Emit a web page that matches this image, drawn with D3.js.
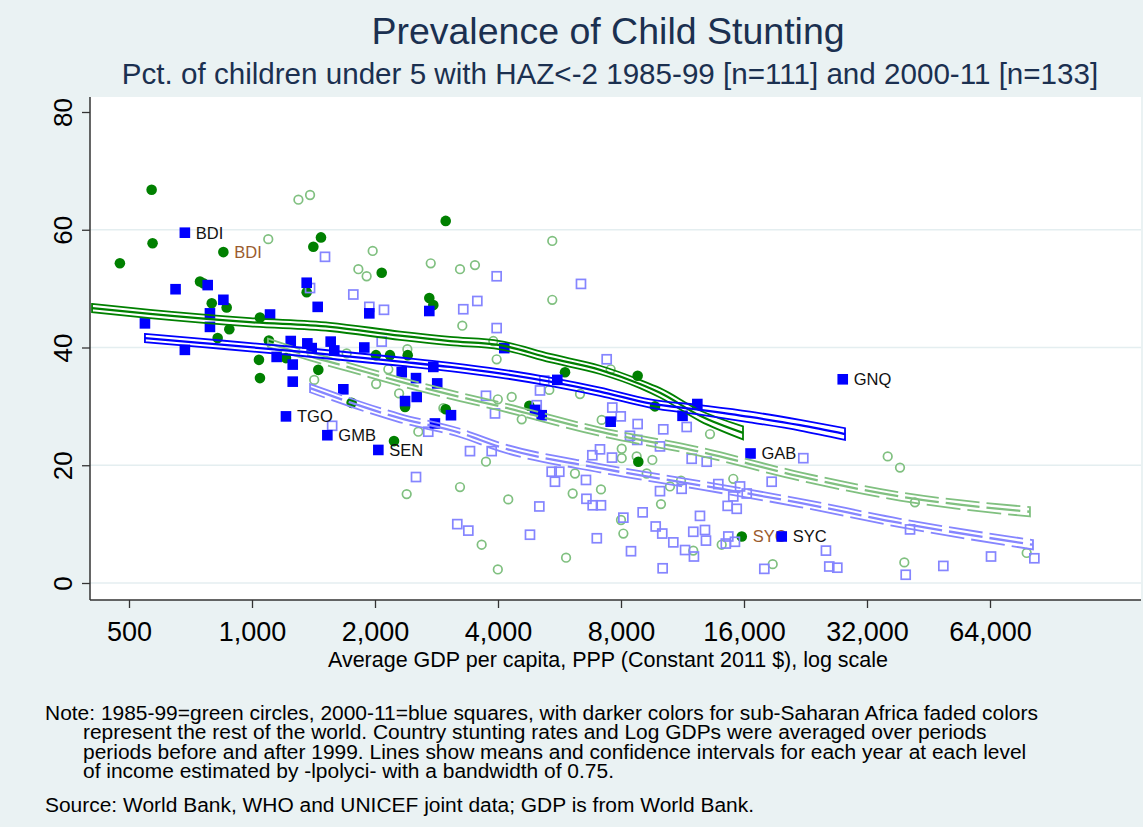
<!DOCTYPE html>
<html>
<head>
<meta charset="utf-8">
<script src="https://cdn.jsdelivr.net/npm/d3@7"></script>
<style>
  body { margin: 0; background: #eaf2f3; }
  svg { display: block; font-family: "Liberation Sans", Arial, Helvetica, sans-serif; }
</style>
</head>
<body>
<svg width="1143" height="827"></svg>
<script>
(function (d3) {
  'use strict';

  var xTicks = [500, 1000, 2000, 4000, 8000, 16000, 32000, 64000];
  var yTicks = [0, 20, 40, 60, 80];

  // [avg gdp per capita, pct stunted, optional country label]
  var ssa1990 = [
    [568, 66.8], [571, 57.7], [475, 54.3], [851, 56.2, "BDI"], [1475, 58.7], [1413, 57.1],
    [2077, 52.7], [746, 51.2], [760, 50.9], [797, 47.5], [867, 46.8], [1361, 49.4],
    [2716, 48.4], [2778, 47.2], [880, 43.1], [824, 41.6], [1046, 45.1], [1100, 41.2],
    [1040, 37.9], [1046, 34.8], [1453, 36.2], [2011, 38.7], [2176, 38.7], [2405, 38.7],
    [1211, 38.2], [2369, 29.9], [2226, 24.1], [1753, 30.6], [2979, 61.5], [4772, 30.1],
    [2979, 29.5], [5836, 35.8], [8787, 35.2], [9688, 30.0], [8820, 20.6], [15800, 7.9, "SYC"]
  ];

  var row1990 = [
    [1299, 65.1], [1387, 65.9], [1096, 58.4], [1974, 56.4], [1821, 53.3], [1908, 52.1],
    [2738, 54.3], [1705, 39.0], [2156, 36.3], [2013, 33.8], [2291, 32.2], [2400, 39.7],
    [1420, 34.5], [2553, 25.7], [5431, 58.1], [5431, 48.1], [3229, 53.3], [3513, 54.0],
    [3271, 43.7], [3896, 41.1], [3970, 38.0], [7547, 36.3], [3996, 31.2], [4321, 31.6],
    [5341, 32.8], [6350, 32.1], [4572, 27.8], [7175, 27.7], [13210, 25.3], [8033, 22.8],
    [8033, 21.2], [8739, 21.5], [9545, 20.9], [9247, 18.6], [10542, 16.4], [11219, 17.4],
    [10022, 13.4], [15062, 17.7], [6172, 18.6], [7146, 15.9], [6093, 15.2], [8000, 10.7],
    [8107, 8.4], [12022, 5.5], [14110, 6.5], [3229, 16.3], [2391, 15.1], [4238, 14.2],
    [3648, 6.5], [5870, 4.3], [3996, 2.3], [2940, 29.7], [3738, 20.6], [35960, 21.5],
    [38540, 19.6], [41920, 13.7], [18810, 3.2], [39490, 3.5], [78700, 5.1]
  ];

  var ssa2005 = [
    [685, 59.5, "BDI"], [650, 49.9], [779, 50.6], [851, 48.1], [789, 45.8], [789, 43.5],
    [547, 44.1], [685, 39.6], [1107, 45.6], [1361, 51.0], [1448, 46.9], [1937, 45.8],
    [2716, 46.2], [1244, 41.1], [1366, 40.7], [1558, 41.0], [1883, 40.0], [1400, 39.9],
    [1590, 39.5], [1149, 38.4], [1258, 37.1], [1258, 34.2], [2325, 35.8], [2520, 34.8],
    [2778, 36.7], [2840, 33.9], [2369, 30.9], [2530, 31.6], [1211, 28.3, "TGO"],
    [1529, 25.1, "GMB"], [2038, 22.6, "SEN"], [1673, 32.9], [2803, 27.1], [4144, 39.9],
    [5587, 34.5], [12300, 30.4], [11316, 28.4], [7547, 27.4], [4927, 29.4], [5117, 28.5],
    [3069, 28.5], [16600, 22.0, "GAB"], [27910, 34.6, "GNQ"], [19790, 7.9, "SYC"]
  ];

  var row2005 = [
    [1509, 55.4], [1387, 50.1], [1770, 49.0], [1937, 46.9], [2104, 46.4], [2077, 41.0],
    [1571, 26.7], [2700, 25.7], [3970, 52.1], [6385, 50.8], [3289, 46.5], [3560, 47.9],
    [3970, 43.3], [7380, 38.0], [5193, 34.4], [5068, 32.7], [3738, 31.8], [7617, 29.8],
    [7988, 28.3], [8787, 27.0], [10152, 26.1], [11584, 26.5], [8415, 25.0], [8768, 24.3],
    [3933, 28.8], [4975, 30.2], [7107, 22.7], [6806, 21.7], [7605, 21.3], [3416, 22.4],
    [3860, 22.4], [9966, 23.2], [11915, 21.1], [12966, 20.6], [2520, 18.0], [5413, 18.9],
    [5650, 18.9], [5514, 17.2], [6567, 17.5], [9966, 15.6], [11259, 16.0], [6584, 14.3],
    [6820, 13.2], [7146, 13.2], [5049, 13.0], [9039, 12.0], [8107, 11.1], [12485, 11.4],
    [14592, 13.1], [15358, 12.6], [15062, 14.7], [15648, 16.4], [16248, 15.2], [13843, 16.8],
    [9728, 9.6], [10094, 8.4], [12022, 8.7], [12842, 9.0], [12913, 7.2], [10743, 6.9],
    [11478, 5.6], [12067, 4.5], [8464, 5.4], [6980, 7.6], [14646, 7.9], [15203, 7.0],
    [4790, 8.2], [3180, 10.0], [3384, 8.9], [10116, 2.5], [22350, 21.2], [18700, 17.2],
    [40780, 9.1], [25390, 5.5], [25870, 2.8], [27070, 2.6], [17940, 2.4], [39800, 1.4],
    [49200, 2.9], [64370, 4.5], [82170, 4.2], [14440, 6.7]
  ];

  // lpolyci fits: [gdp, lower ci, mean, upper ci]
  var fitSsa1990 = [
    [406, 46.0, 46.7, 47.4], [563, 45.0, 45.7, 46.4], [989, 43.6, 44.3, 45.0],
    [1552, 42.8, 43.5, 44.2], [2303, 41.3, 42.0, 42.7], [3052, 40.4, 41.1, 41.8],
    [4045, 39.7, 40.4, 41.1], [5362, 37.5, 38.2, 38.9], [7107, 35.5, 36.2, 36.9],
    [8904, 33.1, 33.8, 34.5], [9968, 31.5, 32.3, 33.1], [12490, 27.5, 28.4, 29.3],
    [15910, 24.4, 25.5, 26.6]
  ];
  var fitSsa2005 = [
    [547, 40.9, 41.6, 42.3], [746, 40.1, 40.8, 41.5], [1311, 38.6, 39.3, 40.0],
    [2303, 36.9, 37.6, 38.3], [3052, 36.0, 36.7, 37.4], [4045, 34.9, 35.6, 36.3],
    [5362, 33.5, 34.2, 34.9], [7107, 31.8, 32.5, 33.2], [9420, 29.8, 30.5, 31.2],
    [12490, 28.6, 29.4, 30.2], [16550, 27.3, 28.2, 29.1], [21935, 25.9, 26.8, 27.7],
    [28270, 24.3, 25.3, 26.3]
  ];
  var fitRow1990 = [
    [1094, 40.1, 40.8, 41.5], [1387, 37.8, 38.5, 39.2], [1737, 35.9, 36.6, 37.3],
    [2303, 33.5, 34.2, 34.9], [3229, 30.9, 31.6, 32.3], [4045, 29.3, 30.0, 30.7],
    [7107, 25.0, 25.7, 26.4], [12490, 21.6, 22.3, 23.0], [21935, 17.4, 18.1, 18.8],
    [38530, 14.0, 14.7, 15.4], [80160, 11.3, 12.1, 12.9]
  ];
  var fitRow2005 = [
    [1387, 32.4, 33.1, 33.8], [2303, 27.3, 28.0, 28.7], [3229, 24.8, 25.5, 26.2],
    [4045, 22.4, 23.1, 23.8], [7107, 18.8, 19.5, 20.2], [12490, 15.9, 16.6, 17.3],
    [21935, 12.9, 13.6, 14.3], [38530, 9.5, 10.2, 10.9], [81540, 5.7, 6.5, 7.3]
  ];

  var noteLines = [
    "Note: 1985-99=green circles, 2000-11=blue squares, with darker colors for sub-Saharan Africa faded colors",
    "represent the rest of the world. Country stunting rates and Log GDPs were averaged over periods",
    "periods before and after 1999. Lines show means and confidence intervals for each year at each level",
    "of income estimated by -lpolyci- with a bandwidth of 0.75."
  ];
  var sourceLine = "Source: World Bank, WHO and UNICEF joint data; GDP is from World Bank.";

  var dkGreen = "#008000";
  var ltGreen = "#80c080";
  var dkBlue = "#0000ff";
  var ltBlue = "#8585ff";

  var svg = d3.select("svg");
  var w = +svg.attr("width");
  var h = +svg.attr("height");
  var pl = 90, pr = 1141, pt = 97, pb = 600;

  var x = d3.scaleLog().base(2).domain([500, 64000]).range([129, 990]);
  var y = d3.scaleLinear().domain([0, 80]).range([583, 112]);

  svg.append("rect").attr("width", w).attr("height", h).attr("fill", "#eaf2f3");
  svg.append("rect")
    .attr("x", pl).attr("y", pt)
    .attr("width", pr - pl).attr("height", pb - pt)
    .attr("fill", "#fff");

  // grid
  svg.append("g").selectAll("line")
    .data(yTicks.filter(function (d) { return d < 80; }))
    .join("line")
    .attr("x1", pl).attr("x2", pr)
    .attr("y1", function (d) { return y(d); })
    .attr("y2", function (d) { return y(d); })
    .attr("stroke", "#e4eef0")
    .attr("stroke-width", 1.6);

  // markers
  var marks = svg.append("g");

  marks.append("g").selectAll("circle")
    .data(row1990).join("circle")
    .attr("cx", function (d) { return x(d[0]); })
    .attr("cy", function (d) { return y(d[1]); })
    .attr("r", 4.3)
    .attr("fill", "none")
    .attr("stroke", ltGreen)
    .attr("stroke-width", 1.7);

  marks.append("g").selectAll("circle")
    .data(ssa1990).join("circle")
    .attr("cx", function (d) { return x(d[0]); })
    .attr("cy", function (d) { return y(d[1]); })
    .attr("r", 5.3)
    .attr("fill", dkGreen);

  marks.append("g").selectAll("text")
    .data(ssa1990.filter(function (d) { return d[2]; })).join("text")
    .attr("x", function (d) { return x(d[0]) + 11; })
    .attr("y", function (d) { return y(d[1]); })
    .attr("dy", "0.36em")
    .attr("font-size", 16.5)
    .attr("fill", "#9a5b2e")
    .text(function (d) { return d[2]; });

  marks.append("g").selectAll("rect")
    .data(row2005).join("rect")
    .attr("x", function (d) { return x(d[0]) - 4.5; })
    .attr("y", function (d) { return y(d[1]) - 4.5; })
    .attr("width", 9).attr("height", 9)
    .attr("fill", "none")
    .attr("stroke", ltBlue)
    .attr("stroke-width", 1.7);

  marks.append("g").selectAll("rect")
    .data(ssa2005).join("rect")
    .attr("x", function (d) { return x(d[0]) - 5.3; })
    .attr("y", function (d) { return y(d[1]) - 5.3; })
    .attr("width", 10.6).attr("height", 10.6)
    .attr("fill", dkBlue);

  marks.append("g").selectAll("text")
    .data(ssa2005.filter(function (d) { return d[2]; })).join("text")
    .attr("x", function (d) { return x(d[0]) + 11; })
    .attr("y", function (d) { return y(d[1]); })
    .attr("dy", "0.36em")
    .attr("font-size", 16.5)
    .attr("fill", "#111")
    .text(function (d) { return d[2]; });

  // fitted lines with ci outlines
  function drawFit(data, color, dashed) {
    var band = d3.area()
      .x(function (d) { return x(d[0]); })
      .y0(function (d) { return y(d[1]); })
      .y1(function (d) { return y(d[3]); })
      .curve(d3.curveMonotoneX);
    var mean = d3.line()
      .x(function (d) { return x(d[0]); })
      .y(function (d) { return y(d[2]); })
      .curve(d3.curveMonotoneX);
    var g = svg.append("g");
    g.append("path")
      .attr("d", band(data))
      .attr("fill", "none")
      .attr("stroke", color)
      .attr("stroke-width", 1.8)
      .attr("stroke-dasharray", dashed ? "34,7" : null);
    g.append("path")
      .attr("d", mean(data))
      .attr("fill", "none")
      .attr("stroke", color)
      .attr("stroke-width", 2.3)
      .attr("stroke-dasharray", dashed ? "34,7" : null);
  }

  drawFit(fitRow1990, ltGreen, true);
  drawFit(fitRow2005, ltBlue, true);
  drawFit(fitSsa1990, dkGreen, false);
  drawFit(fitSsa2005, dkBlue, false);

  // axes
  var xAxis = svg.append("g")
    .attr("transform", "translate(0," + pb + ")")
    .call(d3.axisBottom(x).tickValues(xTicks).tickFormat(d3.format(",")).tickSize(8).tickPadding(14));
  xAxis.select(".domain").remove();
  xAxis.selectAll("line").attr("stroke", "#333").attr("stroke-width", 1.3);
  xAxis.selectAll("text").attr("font-size", 27).attr("fill", "#000")
    .attr("font-family", "'Liberation Sans', Arial, sans-serif");

  var yAxis = svg.append("g")
    .attr("transform", "translate(" + pl + ",0)")
    .call(d3.axisLeft(y).tickValues(yTicks).tickSize(8));
  yAxis.select(".domain").remove();
  yAxis.selectAll("line").attr("stroke", "#333").attr("stroke-width", 1.3);
  yAxis.selectAll("text")
    .attr("transform", "rotate(-90)")
    .attr("x", 0).attr("y", -18).attr("dy", 0)
    .attr("text-anchor", "middle")
    .attr("font-size", 26).attr("fill", "#000")
    .attr("font-family", "'Liberation Sans', Arial, sans-serif");

  svg.append("line").attr("x1", pl).attr("x2", pl).attr("y1", pt).attr("y2", pb)
    .attr("stroke", "#333").attr("stroke-width", 1.5);
  svg.append("line").attr("x1", pl).attr("x2", pr).attr("y1", pb).attr("y2", pb)
    .attr("stroke", "#333").attr("stroke-width", 1.5);

  svg.append("text")
    .attr("x", 608).attr("y", 667)
    .attr("text-anchor", "middle")
    .attr("font-size", 21.5)
    .text("Average GDP per capita, PPP (Constant 2011 $), log scale");

  // titles
  svg.append("text")
    .attr("x", 608).attr("y", 44)
    .attr("text-anchor", "middle")
    .attr("font-size", 37.5)
    .attr("fill", "#1b3050")
    .text("Prevalence of Child Stunting");

  svg.append("text")
    .attr("x", 610).attr("y", 84)
    .attr("text-anchor", "middle")
    .attr("font-size", 29.6)
    .attr("fill", "#1b3050")
    .text("Pct. of children under 5 with HAZ<-2 1985-99 [n=111] and 2000-11 [n=133]");

  // notes: slightly widened glyphs, tight line spacing as in the original
  var notes = svg.append("g").attr("transform", "translate(45,0) scale(1.08,1)");
  notes.selectAll("text")
    .data(noteLines).join("text")
    .attr("x", function (d, i) { return i === 0 ? 0 : 38 / 1.08; })
    .attr("y", function (d, i) { return 720 + i * 19.5; })
    .attr("font-size", 19.4)
    .text(function (d) { return d; });

  notes.append("text")
    .attr("x", 0).attr("y", 812)
    .attr("font-size", 19.4)
    .text(sourceLine);

}(d3));
</script>
</body>
</html>
